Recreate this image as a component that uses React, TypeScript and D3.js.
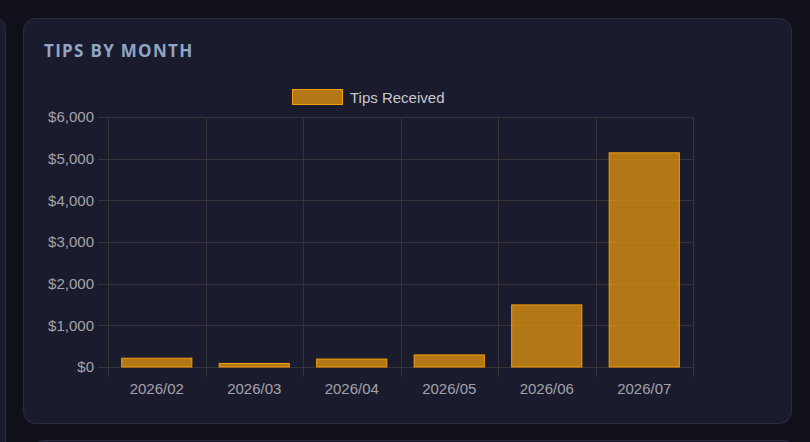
import React from "react";
import * as d3 from "d3";

const categories = ["2026/02", "2026/03", "2026/04", "2026/05", "2026/06", "2026/07"];
const tipsValues = [210, 85, 190, 290, 1490, 5140];
const yTicks = [0, 1000, 2000, 3000, 4000, 5000, 6000];
const seriesName = "Tips Received";
const title = "TIPS BY MONTH";

export default function App() {
  const W = 810, H = 442;
  const left = 108, right = 693, top = 117, bottom = 367;
  const x = d3.scaleBand<string>().domain(categories).range([left, right]).paddingInner(0).paddingOuter(0);
  const y = d3.scaleLinear().domain([0, 6000]).range([bottom, top]);
  const bw = x.bandwidth() * 0.72;
  const fmt = (v: number) => "$" + d3.format(",")(v);
  const grid = "#333338";
  const tickFont = "'Liberation Sans', Arial, sans-serif";
  return (
    <svg width={W} height={H} style={{ position: "fixed", left: 0, top: 0, display: "block" }}>
      <rect x={0} y={0} width={W} height={H} fill="#10101a" />
      <rect x={-20} y={18} width={25.5} height={440} rx={10} fill="#1b1b2e" stroke="#2a2a3c" />
      <rect x={33.5} y={440.5} width={760} height={40} rx={10} fill="#1b1b2e" stroke="#2a2a3c" />
      <rect x={23.5} y={18.5} width={768} height={405} rx={12} fill="#1b1b2e" stroke="#2c2c40" />
      <text x={44} y={57} fill="#8fa6c4" fontFamily="'Open Sans', 'DejaVu Sans', sans-serif" fontWeight={700} fontSize={17} letterSpacing={1.3}>{title}</text>
      {/* legend */}
      <rect x={292.5} y={89.5} width={50} height={15} fill="rgba(245,158,11,0.7)" stroke="#f59e0b" />
      <text x={350} y={102.5} fill="#c8c8cc" fontFamily={tickFont} fontSize={15}>{seriesName}</text>
      {/* horizontal grid */}
      {yTicks.map((t) => (
        <g key={t}>
          <line x1={left - 10} x2={right} y1={Math.round(y(t)) + 0.5} y2={Math.round(y(t)) + 0.5} stroke={grid} />
          <text x={94} y={y(t)} dy="0.35em" textAnchor="end" fill="#a3a3ab" fontFamily={tickFont} fontSize={15}>{fmt(t)}</text>
        </g>
      ))}
      {/* vertical grid */}
      {[...categories.map((c) => x(c) as number), right].map((vx, i) => (
        <line key={i} x1={Math.round(vx) + 0.5} x2={Math.round(vx) + 0.5} y1={top} y2={bottom + 10} stroke={grid} />
      ))}
      {categories.map((c, i) => {
        const cx = (x(c) as number) + x.bandwidth() / 2;
        const v = tipsValues[i];
        return (
          <g key={c}>
            <rect x={cx - bw / 2} y={y(v)} width={bw} height={bottom - y(v)} fill="rgba(245,158,11,0.7)" stroke="#f59e0b" strokeWidth={1} />
            <text x={cx} y={394} textAnchor="middle" fill="#a3a3ab" fontFamily={tickFont} fontSize={15}>{c}</text>
          </g>
        );
      })}
    </svg>
  );
}
